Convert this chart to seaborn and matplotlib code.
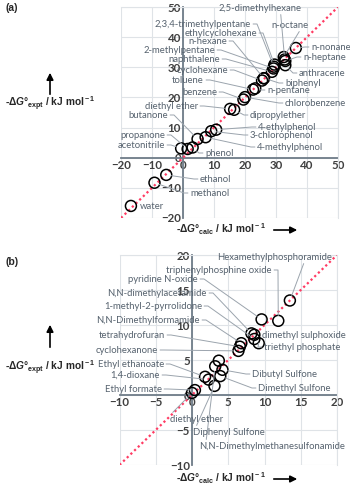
import numpy as np
import pandas as pd
import seaborn as sns
import matplotlib.pyplot as plt

W, H = 350, 490

# ── Panel (a): -dG calc vs -dG expt, kJ/mol ──────────────────────────────────
names_a = ["water", "methanol", "ethanol", "acetonitrile", "propanone", "phenol",
           "butanone", "4-methylphenol", "3-chlorophenol", "4-ethylphenol",
           "diethyl ether", "dipropylether", "benzene", "chlorobenzene", "toluene",
           "n-pentane", "cyclohexane", "biphenyl", "n-hexane", "naphthalene",
           "2-methylpentane", "2,3,4-trimethylpentane", "ethylcyclohexane",
           "n-octane", "2,5-dimethylhexane", "n-heptane", "anthracene", "n-nonane"]
calc_a = [-16.8, -9.2, -5.4, -0.6, 1.5, 3.1, 4.7, 7.3, 9.1, 10.7, 15.2, 16.5, 19.5,
          20.0, 22.6, 23.3, 25.5, 26.1, 26.1, 28.7, 29.2, 29.3, 29.5, 32.5, 32.8,
          33.0, 33.0, 36.4]
expt_a = [-16.0, -8.3, -5.7, 3.1, 2.9, 3.4, 6.2, 6.8, 8.8, 9.3, 16.2, 15.9, 19.3,
          20.1, 22.6, 23.0, 25.6, 26.4, 26.3, 28.5, 29.6, 30.2, 30.9, 33.4, 32.6,
          32.1, 30.7, 36.4]

# ── Panel (b) ────────────────────────────────────────────────────────────────
names_b = ["Hexamethylphosphoramide", "triphenylphosphine oxide", "pyridine N-oxide",
           "N,N-dimethylacetamide", "dimethyl sulphoxide", "1-methyl-2-pyrrolidone",
           "triethyl phosphate", "N,N-Dimethylformamide", "tetrahydrofuran",
           "cyclohexanone", "", "N,N-Dimethylmethanesulfonamide", "Dibutyl Sulfone",
           "Ethyl ethanoate", "Dimethyl Sulfone", "1,4-dioxane", "Diphenyl Sulfone",
           "Ethyl formate", "diethyl ether"]
calc_b = [13.5, 11.9, 9.6, 8.2, 8.6, 8.6, 9.2, 6.8, 6.6, 6.4, 3.7, 3.2, 4.2, 1.8,
          3.9, 2.3, 3.1, 0.4, 0.0]
expt_b = [13.5, 10.6, 10.8, 8.8, 8.6, 8.0, 7.4, 7.4, 6.9, 6.3, 4.9, 4.1, 3.6, 2.6,
          2.7, 2.2, 1.3, 0.7, 0.3]

# label anchors in figure pixels (x, y from top) + side of the point
place_a = {
    "2,5-dimethylhexane": (260, 8, "T"), "n-octane": (290, 25, "T"),
    "2,3,4-trimethylpentane": (251, 24, "L"), "ethylcyclohexane": (257, 33, "L"),
    "n-hexane": (227, 41, "L"), "2-methylpentane": (215, 50, "L"),
    "naphthalene": (220, 59, "L"), "cyclohexane": (228, 70, "L"),
    "toluene": (204, 80, "L"), "benzene": (217, 92, "L"),
    "diethyl ether": (198, 106, "L"), "butanone": (168, 115, "L"),
    "propanone": (165, 135, "L"), "acetonitrile": (165, 145, "L"),
    "n-nonane": (311, 47, "R"), "n-heptane": (303, 57, "R"),
    "anthracene": (299, 73, "R"), "biphenyl": (285, 83, "R"),
    "n-pentane": (267, 90, "R"), "chlorobenzene": (285, 103, "R"),
    "dipropylether": (250, 115, "R"), "4-ethylphenol": (258, 127, "R"),
    "3-chlorophenol": (250, 135, "R"), "4-methylphenol": (257, 147, "R"),
    "phenol": (205, 153, "R"), "ethanol": (200, 179, "R"),
    "methanol": (190, 193, "R"), "water": (140, 206, "N"),
}
place_b = {
    "Hexamethylphosphoramide": (275, 257, "T"),
    "triphenylphosphine oxide": (272, 270, "L"), "pyridine N-oxide": (198, 279, "L"),
    "N,N-dimethylacetamide": (207, 293, "L"), "1-methyl-2-pyrrolidone": (202, 306, "L"),
    "N,N-Dimethylformamide": (200, 320, "L"), "tetrahydrofuran": (165, 335, "L"),
    "cyclohexanone": (158, 350, "L"), "Ethyl ethanoate": (164, 364, "L"),
    "1,4-dioxane": (160, 375, "L"), "Ethyl formate": (162, 389, "L"),
    "dimethyl sulphoxide": (262, 335, "R"), "triethyl phosphate": (264, 347, "R"),
    "Dibutyl Sulfone": (252, 374, "R"), "Dimethyl Sulfone": (258, 388, "R"),
    "diethyl ether": (170, 419, "B"), "Diphenyl Sulfone": (193, 432, "B"),
    "N,N-Dimethylmethanesulfonamide": (199, 446, "B"),
}

sns.set_theme(style="white")
plt.rcParams["font.family"] = ["Lato", "DejaVu Sans"]
plt.rcParams["mathtext.fontset"] = "custom"
plt.rcParams["mathtext.rm"] = "Liberation Sans:bold"
plt.rcParams["mathtext.it"] = "Liberation Sans:italic:bold"
plt.rcParams["mathtext.bf"] = "Liberation Sans:bold"

label_c = "#56626e"
lead_c = "#9ba4ad"
grid_c = "#dfe3e7"
axis_c = "#6f7c88"

fig = plt.figure(figsize=(W / 100, H / 100), dpi=100)


def draw_panel(ax, names, calc, expt, place, lo, hi, step):
    df = pd.DataFrame({"name": names, "calc": calc, "expt": expt})
    ax.set_xlim(lo, hi)
    ax.set_ylim(lo, hi)
    ax.set_xticks(np.arange(lo, hi + 1, step))
    ax.set_yticks(np.arange(lo, hi + 1, step))
    ax.grid(True, color=grid_c, lw=0.8)
    ax.set_axisbelow(True)
    ax.plot([lo, hi], [lo, hi], ls=(0, (1, 1.3)), color="#ff3b63", lw=1.6, zorder=3)
    sns.scatterplot(data=df, x="calc", y="expt", ax=ax, s=62, facecolor="none",
                    edgecolor="black", linewidth=1.1, zorder=4, legend=False)
    ax.set_xlabel("")
    ax.set_ylabel("")
    for s in ["left", "bottom"]:
        ax.spines[s].set_position(("data", 0))
        ax.spines[s].set_color(axis_c)
        ax.spines[s].set_linewidth(1.3)
        ax.spines[s].set_zorder(2)
    for s in ["top", "right"]:
        ax.spines[s].set_color(grid_c)
        ax.spines[s].set_linewidth(0.8)
    ax.tick_params(length=0, pad=1.5, labelsize=8.3, labelcolor="#3f3f3f")
    for lab in ax.get_xticklabels() + ax.get_yticklabels():
        lab.set_fontweight("bold")

    for _, r in df.iterrows():
        if r["name"] not in place:
            continue
        px, py, side = place[r["name"]]
        kw = dict(xy=(r["calc"], r["expt"]), xytext=(px, H - py),
                  textcoords="figure pixels", fontsize=6.8, color=label_c,
                  va="center", annotation_clip=False, zorder=5)
        if side == "N":
            ax.annotate(r["name"], ha="left", **kw)
            continue
        if side == "L":
            ha, rel, ang, arm = "right", (1, 0.5), 0, 6
        elif side == "R":
            ha, rel, ang, arm = "left", (0, 0.5), 180, 6
        elif side == "T":
            ha, rel, ang, arm = "center", (0.75, 0), -90, 2
        else:
            ha, rel, ang, arm = "left", (0.05, 1), 90, 2
        ax.annotate(r["name"], ha=ha, arrowprops=dict(
            arrowstyle="-", color=lead_c, lw=0.7, patchA=None,
            shrinkA=1.5, shrinkB=3.8, relpos=rel,
            connectionstyle=f"arc,angleA={ang},armA={arm},angleB=0,armB=0,rad=0"),
            **kw)


ax_a = fig.add_axes([121 / W, 1 - 218 / H, 217 / W, 211 / H])
draw_panel(ax_a, names_a, calc_a, expt_a, place_a, -20, 50, 10)
ax_b = fig.add_axes([119.5 / W, 1 - 465 / H, 217.5 / W, 210 / H])
draw_panel(ax_b, names_b, calc_b, expt_b, place_b, -10, 20, 5)

ylab = r"-Δ$G$°$_{\rm expt}$ / kJ mol$^{\rm -1}$"
xlab = r"-Δ$G$°$_{\rm calc}$ / kJ mol$^{\rm -1}$"


def fig_text(x, y, s, **kw):
    fig.text(x / W, 1 - y / H, s, **kw)


def fig_arrow(x0, y0, x1, y1):
    fig.add_artist(plt.matplotlib.patches.FancyArrowPatch(
        (x0 / W, 1 - y0 / H), (x1 / W, 1 - y1 / H), transform=fig.transFigure,
        arrowstyle="-|>,head_length=4,head_width=2", color="black", lw=1.2))


for tag, ty, ly, ay0, ay1, xy in [("(a)", 8, 104, 97, 70, 229),
                                   ("(b)", 262, 368, 350, 322, 478)]:
    fig_text(5, ty, tag, fontsize=7.5, fontweight="bold", family="Liberation Sans",
             va="center")
    fig_text(5, ly, ylab, fontsize=7.3, fontweight="bold", family="Liberation Sans",
             va="center")
    fig_arrow(50, ay0, 50, ay1)
    fig_text(266, xy, xlab, fontsize=7.3, fontweight="bold", family="Liberation Sans",
             va="center", ha="right")
    fig_arrow(271, xy + 1, 300, xy + 1)

fig.savefig("out.png", dpi=100)
